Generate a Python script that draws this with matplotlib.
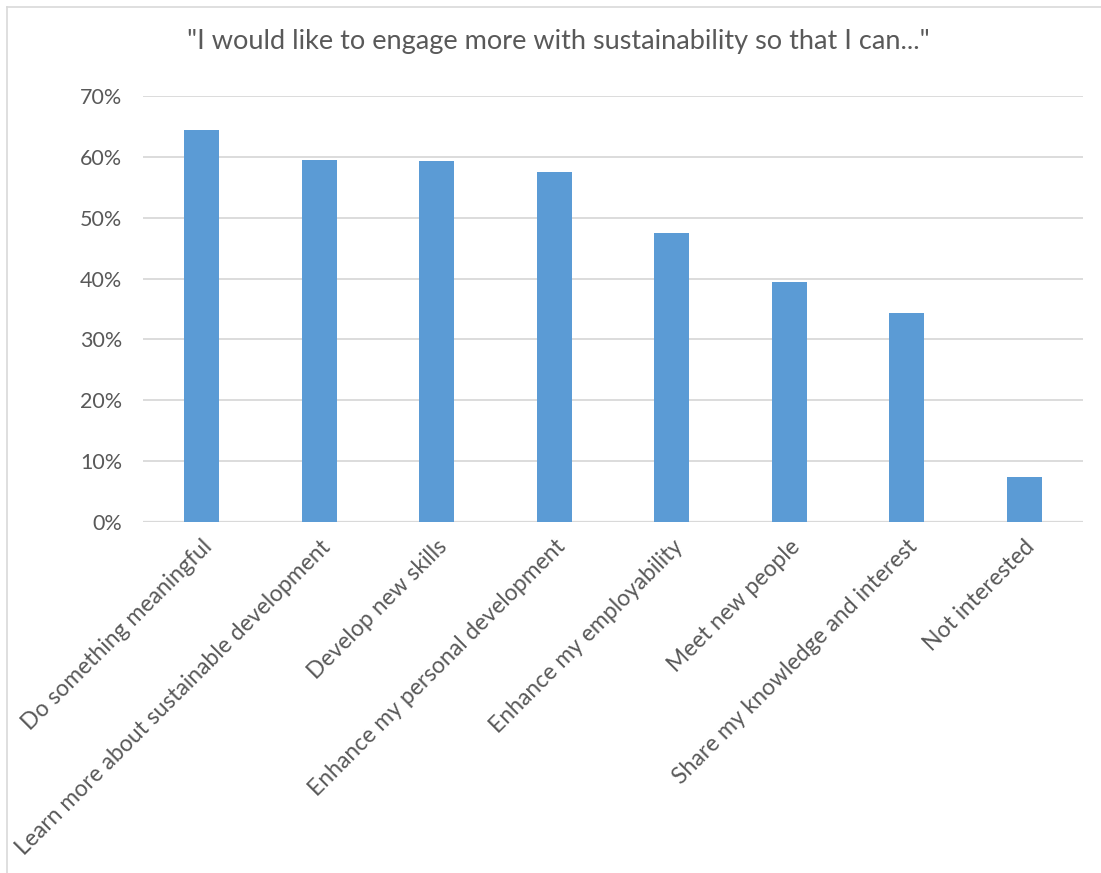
import matplotlib
matplotlib.use("Agg")
import matplotlib.pyplot as plt
from matplotlib.lines import Line2D
from matplotlib.ticker import PercentFormatter

plt.rcParams['font.family'] = ['Lato', 'DejaVu Sans']

title = '"I would like to engage more with sustainability so that I can..."'
categories = [
    "Do something meaningful",
    "Learn more about sustainable development",
    "Develop new skills",
    "Enhance my personal development",
    "Enhance my employability",
    "Meet new people",
    "Share my knowledge and interest",
    "Not interested",
]
shares = [0.644, 0.595, 0.593, 0.574, 0.474, 0.395, 0.344, 0.075]
y_ticks = [0.0, 0.1, 0.2, 0.3, 0.4, 0.5, 0.6, 0.7]

text_color = "#595959"
bar_color = "#5B9BD5"
grid_color = "#D9D9D9"

fig = plt.figure(figsize=(11.01, 8.73), dpi=100)
ax = fig.add_axes([0.1299, 0.4017, 0.8538, 0.4887])

x = list(range(len(categories)))
ax.bar(x, shares, width=0.3, color=bar_color, zorder=3)

ax.set_xlim(-0.5, len(categories) - 0.5)
ax.set_ylim(0, 0.7)
ax.set_yticks(y_ticks)
ax.yaxis.set_major_formatter(PercentFormatter(1.0, decimals=0))
ax.grid(axis="y", color=grid_color, linewidth=1.3, zorder=0)
ax.set_axisbelow(True)

for side in ["top", "right", "left", "bottom"]:
    ax.spines[side].set_visible(False)
ax.axhline(0, color=grid_color, linewidth=1.6, zorder=2)

ax.set_xticks(x)
ax.set_xticklabels(categories, rotation=45, ha="right", rotation_mode="anchor",
                   fontsize=16.5, color=text_color)
ax.tick_params(axis="x", length=0, pad=10)
ax.tick_params(axis="y", length=0, pad=15, labelsize=15.5, labelcolor=text_color)

fig.text(0.507, 0.952, title, ha="center", va="center", fontsize=19.5, color=text_color)

# chart frame edges
fig.add_artist(Line2D([7 / 1101, 1.0], [1 - 7 / 873, 1 - 7 / 873],
                      transform=fig.transFigure, color=grid_color, linewidth=1.2))
fig.add_artist(Line2D([7 / 1101, 7 / 1101], [0.0, 1 - 7 / 873],
                      transform=fig.transFigure, color=grid_color, linewidth=1.2))

fig.savefig("out.png", dpi=100, facecolor="white")
